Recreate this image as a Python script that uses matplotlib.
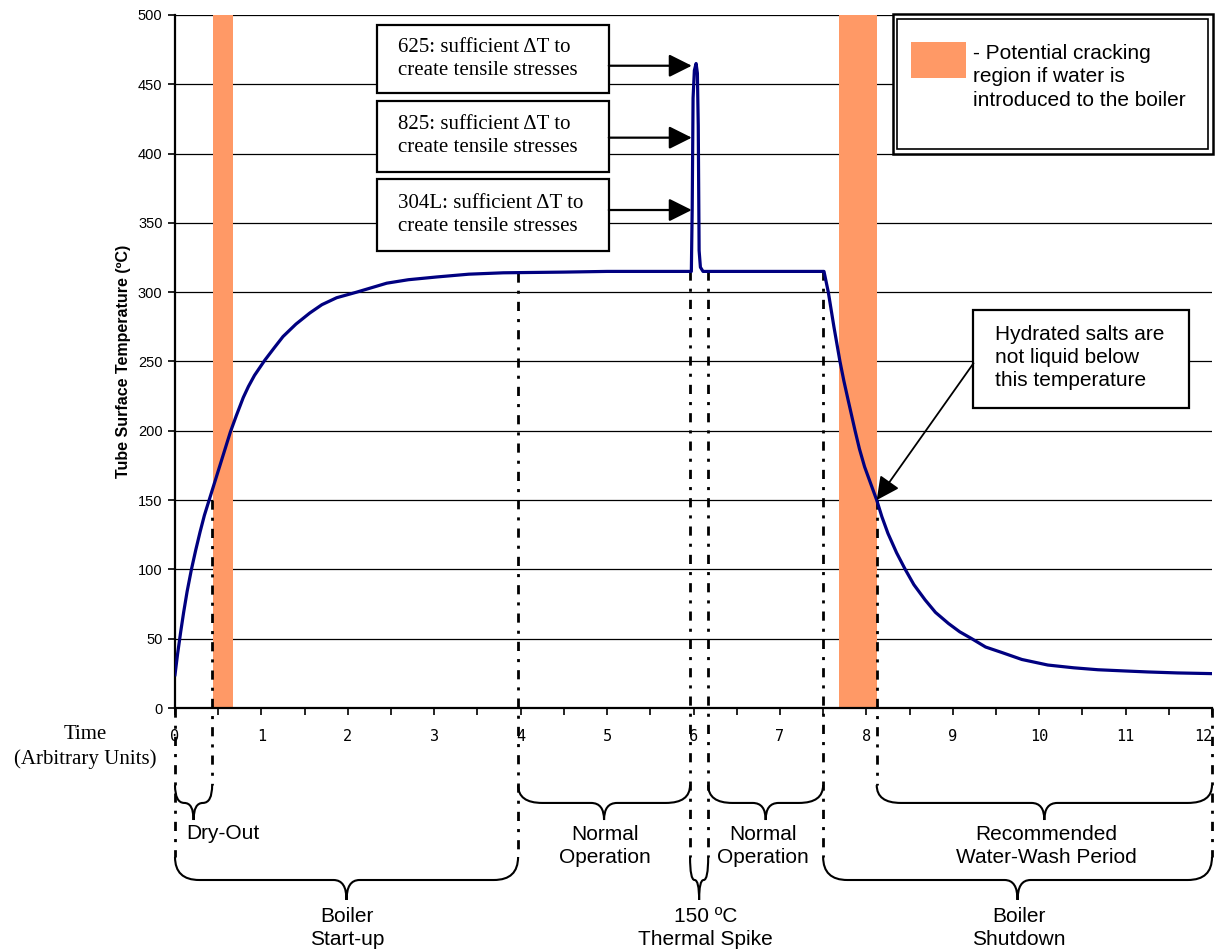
import matplotlib.pyplot as plt
import numpy as np
from matplotlib.patches import Rectangle, PathPatch
from matplotlib.path import Path

# curve
time = [0, 0.03, 0.066, 0.1, 0.14, 0.19, 0.24, 0.29, 0.34, 0.40, 0.47, 0.52, 0.58, 0.64,
        0.71, 0.79, 0.85, 0.92, 1.04, 1.15, 1.25, 1.4, 1.56, 1.7, 1.87, 2.1, 2.45, 2.7,
        3.03, 3.4, 3.8, 4.5, 5.0, 5.5, 5.975, 5.985, 5.995, 6.01, 6.03, 6.045,
        6.055, 6.065, 6.08, 6.11, 6.5, 7.0, 7.51, 7.56, 7.625, 7.695, 7.74, 7.79,
        7.83, 7.87, 7.92, 7.98, 8.05, 8.12, 8.18, 8.25, 8.35, 8.45, 8.55, 8.68, 8.8,
        8.95, 9.08, 9.22, 9.38, 9.57, 9.8, 10.1, 10.4, 10.68, 11.0, 11.26, 11.6, 12.0]
temp = [24, 39, 55, 69, 84, 100, 114, 127, 139, 151, 165, 175, 187, 199,
        211, 224, 232, 240, 251, 260, 268, 277, 285, 291, 296, 300, 306.5, 309,
        311, 313, 314, 314.5, 315, 315, 315, 360, 440, 460, 465, 458,
        420, 330, 318, 315, 315, 315, 315, 300, 275, 250, 236, 222,
        211, 200, 187, 174, 162, 150, 138, 126, 112, 100, 89, 78, 69,
        61, 55, 50, 44, 40, 35, 31, 29, 27.6, 26.7, 26, 25.3, 24.8]

# orange bands (potential cracking)
bands = [(0.443, 0.667), (7.68, 8.12)]

# dash-dot markers: x, top y, bottom y
markers = [(0, 0, -107.5), (0.43, 150, -55.6), (3.97, 314, -107.5), (5.96, 315, -107.5),
           (6.17, 315, -107.5), (7.50, 315, -107.5), (8.12, 150, -55.6), (12, 0, -107.5)]

# braces: start, end, label, label x, row
braces = [(0, 0.43, "Dry-Out", None, 0),
          (3.97, 5.96, "Normal\nOperation", 4.98, 0),
          (6.17, 7.50, "Normal\nOperation", 6.80, 0),
          (8.12, 12.0, "Recommended\nWater-Wash Period", 10.08, 0),
          (0, 3.97, "Boiler\nStart-up", 1.99, 1),
          (5.96, 6.17, "150 ºC\nThermal Spike", 6.14, 1),
          (7.50, 12.0, "Boiler\nShutdown", 9.77, 1)]

callouts = [("625: sufficient ΔT to\ncreate tensile stresses", 468.3, 463.4),
            ("825: sufficient ΔT to\ncreate tensile stresses", 412.6, 411.5),
            ("304L: sufficient ΔT to\ncreate tensile stresses", 355.6, 359.3)]

sans = ['Liberation Sans', 'DejaVu Sans']
serif = ['Liberation Serif', 'DejaVu Serif']

fig = plt.figure(figsize=(12.15, 9.52), dpi=100)
ax = fig.add_axes([175/1215, 244/952, 1037/1215, 693/952])
ax.set_xlim(0, 12)
ax.set_ylim(0, 500)

for a, b in bands:
    ax.axvspan(a, b, color='#ff9966', lw=0, zorder=1)

ax.set_yticks(np.arange(0, 501, 50))
ax.set_xticks(np.arange(0, 12.1, 0.5))
ax.set_xticklabels([str(int(v)) if v == int(v) else '' for v in np.arange(0, 12.1, 0.5)])
ax.yaxis.grid(True, color='black', lw=0.9)
ax.set_axisbelow(True)
for s in ['top', 'right']:
    ax.spines[s].set_visible(False)
ax.spines['left'].set_linewidth(1.6)
ax.spines['bottom'].set_linewidth(1.6)
ax.tick_params(axis='y', direction='out', length=5, width=1.2, labelsize=10.5, pad=4)
ax.tick_params(axis='x', direction='out', length=5, width=1.2, labelsize=11, pad=10)
for lab in ax.get_yticklabels():
    lab.set_family(sans)
for lab in ax.get_xticklabels():
    lab.set_family('DejaVu Sans Mono')
# last label sits on the figure edge, keep it inside
ax.get_xticklabels()[-1].set_horizontalalignment('right')
ax.set_ylabel('Tube Surface Temperature (ºC)', family=sans, fontsize=11.5,
              fontweight='bold', labelpad=5)

ax.plot(time, temp, color='#000080', lw=2.3, zorder=4, solid_joinstyle='round')

dash = (0, (3.3, 2.9, 1.1, 2.9))
for x, y0, y1 in markers:
    ax.plot([x, x], [y0, y1], color='black', lw=2, linestyle=dash, clip_on=False, zorder=3)


def brace(x0, x1, yt, ym, yb, xc):
    w = x1 - x0
    r = min(0.28, w / 4)
    r2 = min(0.15, w / 4)
    verts = [(x0, yt), (x0, ym), (x0 + r, ym), (xc - r2, ym), (xc, ym), (xc, yb),
             (xc, ym), (xc + r2, ym), (x1 - r, ym), (x1, ym), (x1, yt)]
    codes = [Path.MOVETO, Path.CURVE3, Path.CURVE3, Path.LINETO, Path.CURVE3, Path.CURVE3,
             Path.CURVE3, Path.CURVE3, Path.LINETO, Path.CURVE3, Path.CURVE3]
    ax.add_patch(PathPatch(Path(verts, codes), fc='none', ec='black', lw=1.5,
                           clip_on=False, zorder=3))


rows = [(-55.6, -68.5, -80.8, -99.6), (-107.5, -124.1, -138.5, -158.7)]
for x0, x1, label, lx, row in braces:
    yt, ym, yb, ty = rows[row]
    brace(x0, x1, yt, ym, yb, (x0 + x1) / 2)
    if lx is None:
        ax.text(0.13, -90.2, label, ha='left', va='center', family=sans, fontsize=15,
                clip_on=False)
    else:
        ax.text(lx, ty, label, ha='center', va='center', family=sans, fontsize=15,
                linespacing=1.3, clip_on=False)

fig.text(85/1215, 0.2153, 'Time\n(Arbitrary Units)', ha='center', va='center',
         family=serif, fontsize=15, linespacing=1.3)

# callout boxes over the spike
box_tops = [492.8, 438.2, 381.5]
box_bots = [443.7, 386.9, 329.7]
for (txt, ty, ay), top, bot in zip(callouts, box_tops, box_bots):
    ax.add_patch(Rectangle((2.34, bot), 5.02 - 2.34, top - bot, fc='white', ec='black',
                           lw=1.6, zorder=6, clip_on=False))
    ax.text(2.58, ty, txt, ha='left', va='center', family=serif, fontsize=15,
            linespacing=1.3, zorder=7)
    ax.annotate('', xy=(5.98, ay), xytext=(5.02, ay),
                arrowprops=dict(arrowstyle='-|>,head_length=0.7,head_width=0.35',
                                mutation_scale=20, lw=1.6, color='black',
                                shrinkA=0, shrinkB=0), zorder=7)

# legend box with double border
ax.add_patch(Rectangle((8.305, 399.7), 12.01 - 8.305, 500.7 - 399.7, fc='white',
                       ec='black', lw=1.8, zorder=6, clip_on=False))
ax.add_patch(Rectangle((8.36, 403.2), 11.955 - 8.36, 497.2 - 403.2, fc='white',
                       ec='black', lw=1.2, zorder=6, clip_on=False))
ax.add_patch(Rectangle((8.52, 454.8), 9.15 - 8.52, 480.5 - 454.8, fc='#ff9966',
                       ec='none', zorder=7, clip_on=False))
ax.text(9.23, 455.3, '- Potential cracking\nregion if water is\nintroduced to the boiler',
        ha='left', va='center', family=sans, fontsize=15, linespacing=1.27, zorder=8)

# hydrated salts box
ax.add_patch(Rectangle((9.24, 216.2), 11.73 - 9.24, 287.2 - 216.2, fc='white',
                       ec='black', lw=1.6, zorder=6))
ax.text(9.49, 252.9, 'Hydrated salts are\nnot liquid below\nthis temperature',
        ha='left', va='center', family=sans, fontsize=15, linespacing=1.27, zorder=7)
ax.annotate('', xy=(8.12, 150), xytext=(9.24, 248.7),
            arrowprops=dict(arrowstyle='-|>,head_length=0.7,head_width=0.35',
                            mutation_scale=20, lw=1.3, color='black',
                            shrinkA=0, shrinkB=0), zorder=7)

fig.savefig('out.png', dpi=100)
